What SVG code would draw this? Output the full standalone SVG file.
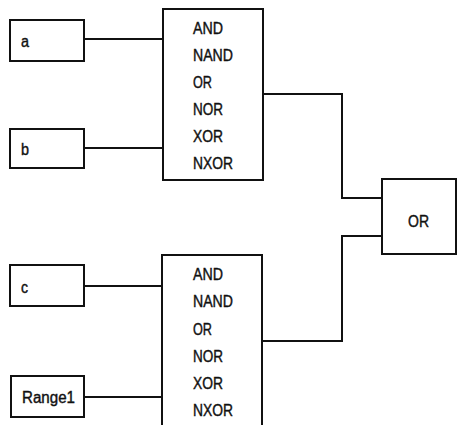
<svg xmlns="http://www.w3.org/2000/svg" width="461" height="425" viewBox="0 0 461 425">
<style>
rect{fill:#fff;stroke:#111;stroke-width:2}
.c{fill:none;stroke:#111;stroke-width:2}
text{font-family:"Liberation Sans",Arial,sans-serif;font-size:16px;fill:#111;stroke:#111;stroke-width:0.4;dominant-baseline:central}
</style>
<rect x="0" y="0" width="461" height="425" style="stroke:none"/>
<g id="connectors">
<path class="c" d="M84 39H163"/>
<path class="c" d="M84 148H163"/>
<path class="c" d="M84 286H162"/>
<path class="c" d="M84 397H162"/>
<path class="c" d="M263 94H342V198H382"/>
<path class="c" d="M382 236H342V341H262"/>
</g>
<g id="a"><rect x="10" y="20" width="74" height="41"/><text x="21" y="41" textLength="8" lengthAdjust="spacingAndGlyphs">a</text></g>
<g id="b"><rect x="10" y="129" width="74" height="39"/><text x="21" y="149" textLength="8" lengthAdjust="spacingAndGlyphs">b</text></g>
<g id="c"><rect x="10" y="265" width="74" height="41"/><text x="21" y="287" textLength="7" lengthAdjust="spacingAndGlyphs">c</text></g>
<g id="range1"><rect x="11" y="376" width="73" height="41"/><text x="22" y="397" textLength="53" lengthAdjust="spacingAndGlyphs">Range1</text></g>
<g id="logic1"><rect x="163" y="9" width="100" height="171"/>
<text x="193" y="28" textLength="30" lengthAdjust="spacingAndGlyphs">AND</text>
<text x="193" y="55" textLength="40" lengthAdjust="spacingAndGlyphs">NAND</text>
<text x="193" y="82" textLength="19" lengthAdjust="spacingAndGlyphs">OR</text>
<text x="193" y="109" textLength="30" lengthAdjust="spacingAndGlyphs">NOR</text>
<text x="193" y="136" textLength="30" lengthAdjust="spacingAndGlyphs">XOR</text>
<text x="193" y="163" textLength="40" lengthAdjust="spacingAndGlyphs">NXOR</text></g>
<g id="logic2"><rect x="162" y="255" width="100" height="180"/>
<text x="193" y="274" textLength="30" lengthAdjust="spacingAndGlyphs">AND</text>
<text x="193" y="301" textLength="40" lengthAdjust="spacingAndGlyphs">NAND</text>
<text x="193" y="329" textLength="19" lengthAdjust="spacingAndGlyphs">OR</text>
<text x="193" y="356" textLength="30" lengthAdjust="spacingAndGlyphs">NOR</text>
<text x="193" y="383" textLength="30" lengthAdjust="spacingAndGlyphs">XOR</text>
<text x="193" y="410" textLength="40" lengthAdjust="spacingAndGlyphs">NXOR</text></g>
<g id="or"><rect x="382" y="179" width="74" height="75"/><text x="408" y="221" textLength="21" lengthAdjust="spacingAndGlyphs">OR</text></g>
</svg>
